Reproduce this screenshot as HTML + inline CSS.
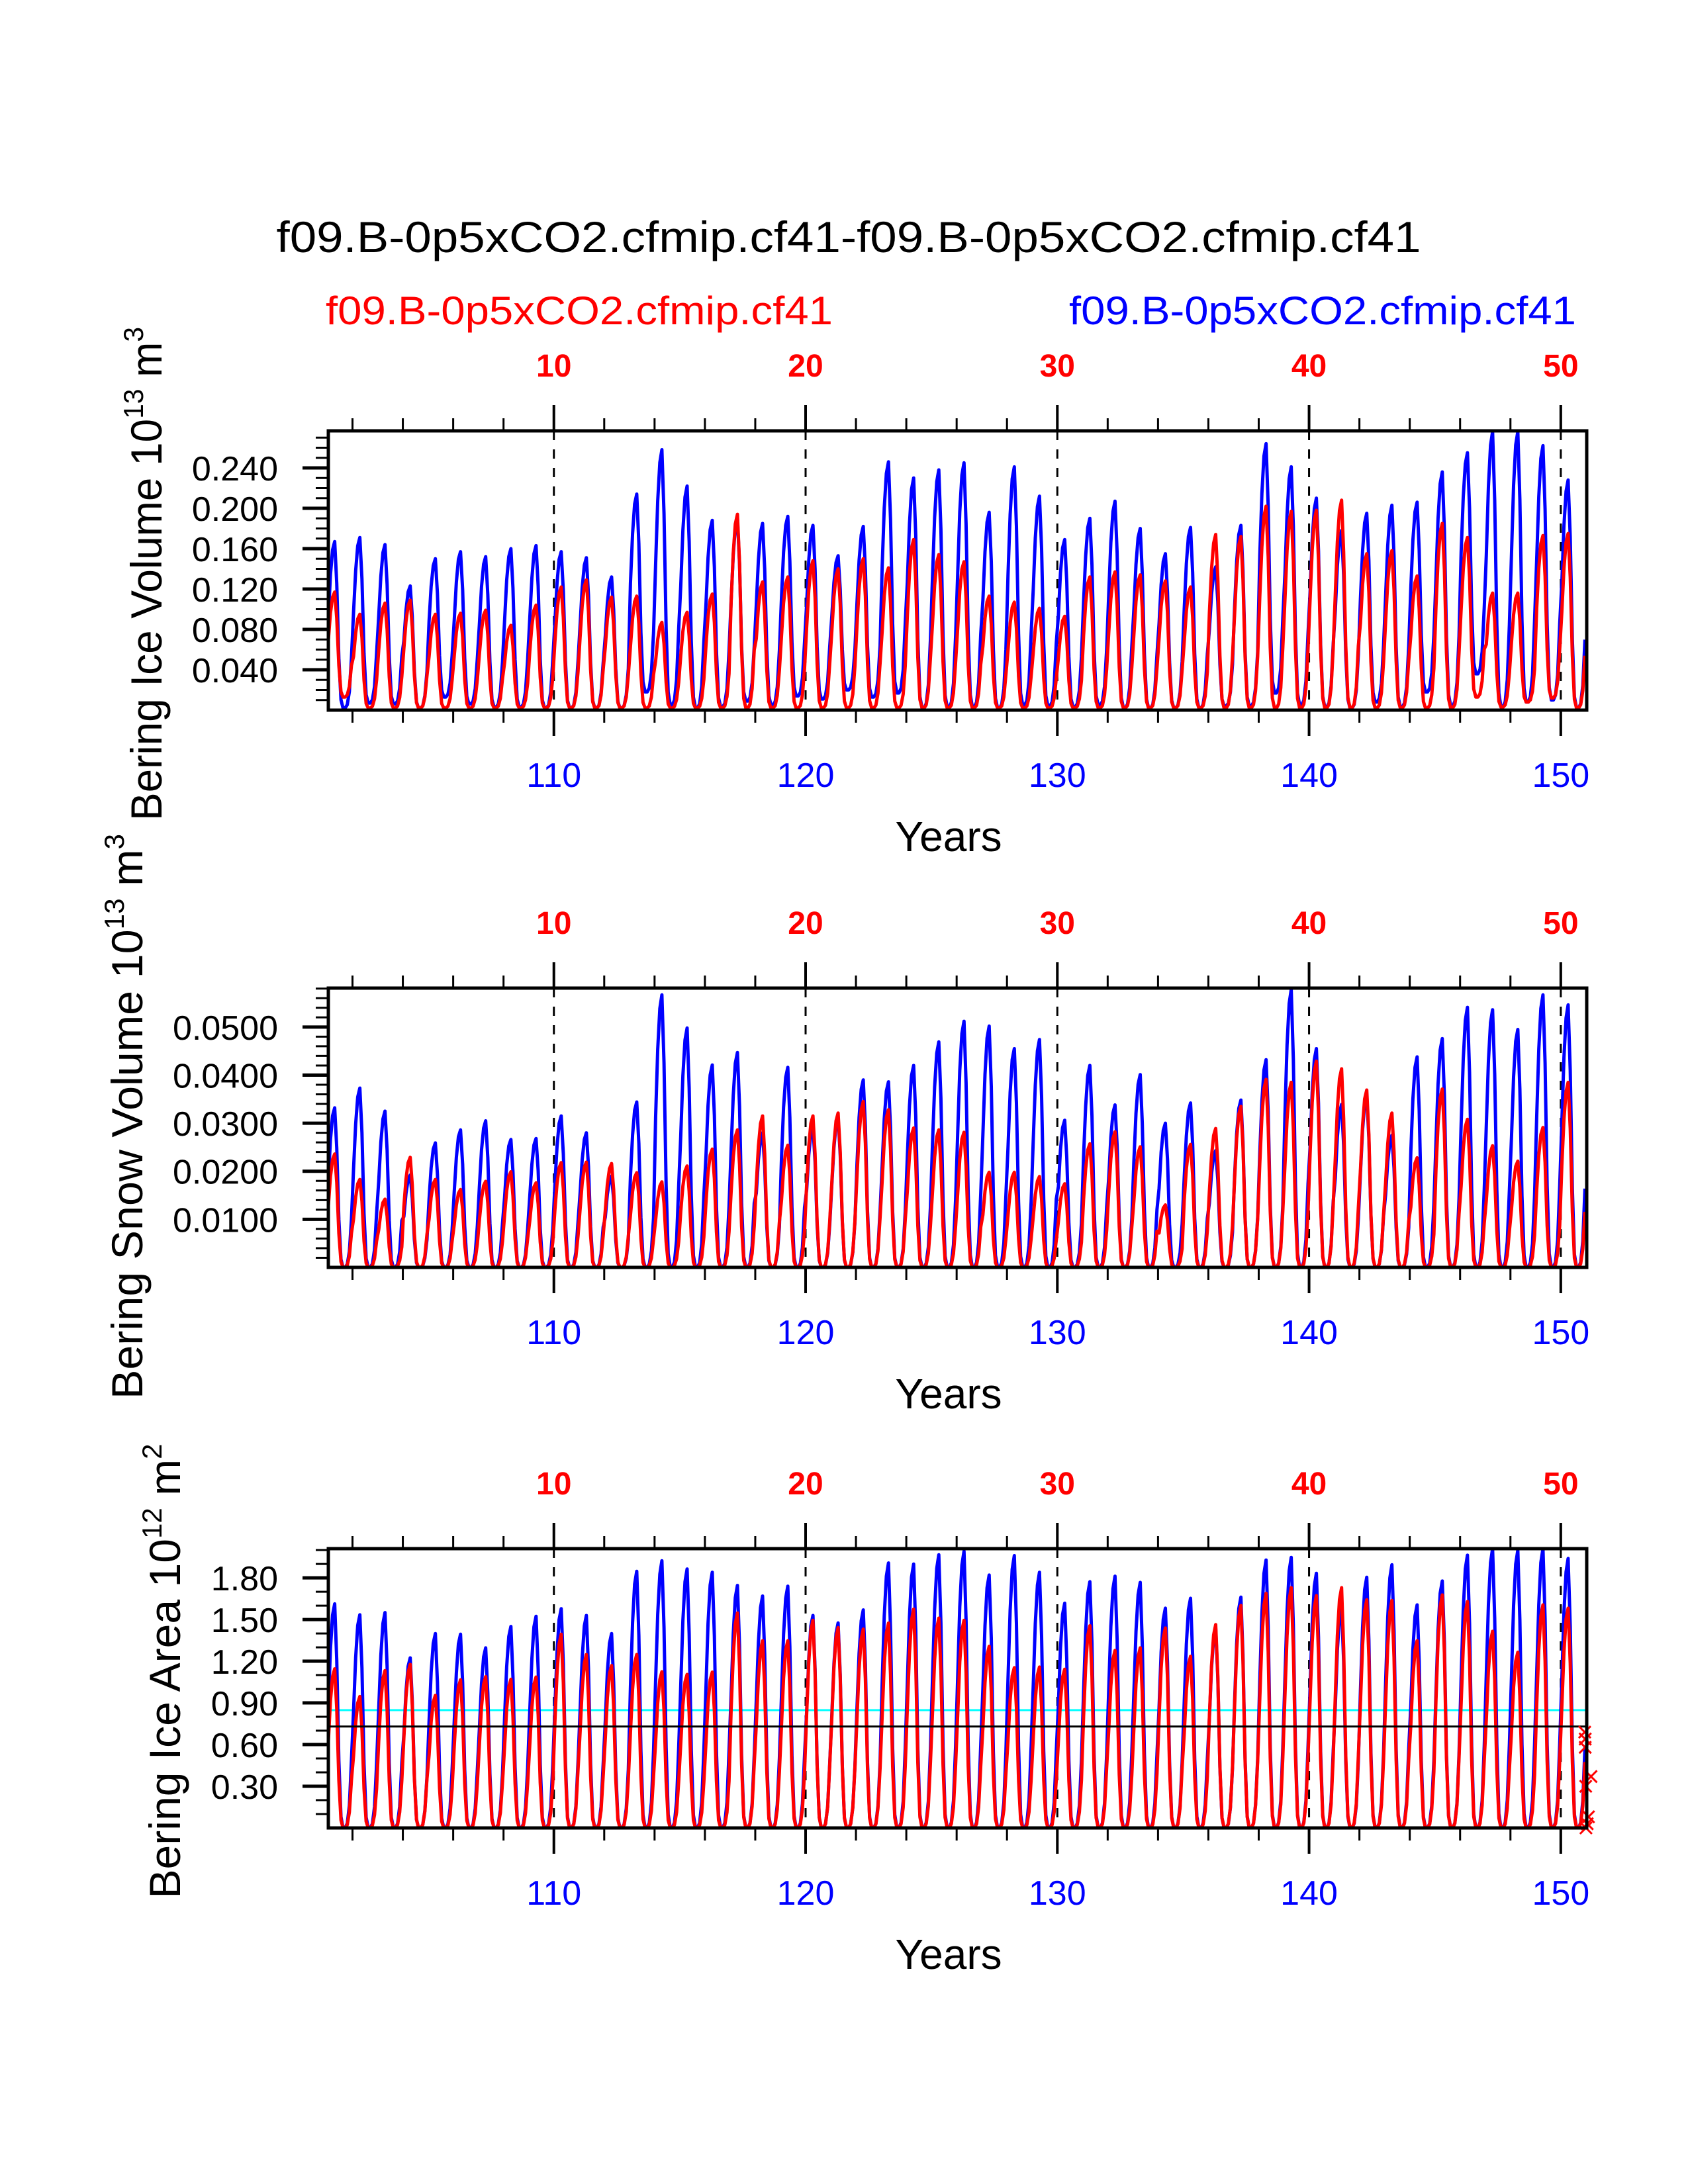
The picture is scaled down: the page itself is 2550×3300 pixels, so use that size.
<!DOCTYPE html>
<html><head><meta charset="utf-8"><style>
html,body{margin:0;padding:0;background:#fff;}
svg{display:block;font-family:"Liberation Sans",Arial,sans-serif;}
</style></head><body>
<svg id="chart" xmlns="http://www.w3.org/2000/svg" width="2550" height="3300" viewBox="0 0 2550 3300">
<rect x="0" y="0" width="2550" height="3300" fill="#fff"/>
<text x="1282" y="381" font-size="66" text-anchor="middle" textLength="1729" lengthAdjust="spacingAndGlyphs">f09.B-0p5xCO2.cfmip.cf41-f09.B-0p5xCO2.cfmip.cf41</text>
<text x="492" y="490" font-size="60" fill="#ff0000" textLength="766" lengthAdjust="spacingAndGlyphs">f09.B-0p5xCO2.cfmip.cf41</text>
<text x="2381" y="490" font-size="60" fill="#0000ff" text-anchor="end" textLength="766" lengthAdjust="spacingAndGlyphs">f09.B-0p5xCO2.cfmip.cf41</text>
<g id="plots"></g>
</svg>
<script>
// ---- data (annual peak/trough per year 1..50) ----
const years = [1,2,3,4,5,6,7,8,9,10,11,12,13,14,15,16,17,18,19,20,21,22,23,24,25,26,27,28,29,30,31,32,33,34,35,36,37,38,39,40,41,42,43,44,45,46,47,48,49,50];
const topTickLabels = ["10","20","30","40","50"];
const bottomTickLabels = ["110","120","130","140","150"];
const seasonalShape = [0.55,0.8,0.95,1.0,0.75,0.3,0.05,0,0,0.02,0.1,0.3];

const iceVolBluePeak = [0.167,0.171,0.164,0.123,0.150,0.157,0.152,0.160,0.163,0.157,0.151,0.132,0.214,0.258,0.222,0.188,0.190,0.185,0.192,0.183,0.153,0.182,0.246,0.230,0.238,0.245,0.196,0.241,0.212,0.169,0.190,0.207,0.180,0.155,0.181,0.142,0.183,0.264,0.241,0.210,0.178,0.195,0.203,0.206,0.236,0.255,0.276,0.276,0.262,0.228];
const iceVolRedPeak = [0.117,0.095,0.106,0.109,0.095,0.096,0.099,0.084,0.104,0.122,0.129,0.112,0.113,0.087,0.097,0.115,0.194,0.127,0.132,0.148,0.140,0.150,0.141,0.169,0.154,0.147,0.113,0.107,0.101,0.093,0.132,0.137,0.134,0.128,0.122,0.174,0.172,0.202,0.197,0.198,0.208,0.155,0.158,0.133,0.185,0.171,0.116,0.116,0.173,0.175];
const iceVolBlueMin = [0.002,0.007,0.006,0.002,0.013,0.006,0.003,0.003,0.002,0.002,0.002,0.002,0.018,0.005,0.002,0.003,0.009,0.005,0.014,0.011,0.02,0.013,0.017,0.002,0.003,0.003,0.002,0.005,0.004,0.003,0.005,0.002,0.002,0.002,0.002,0.004,0.004,0.017,0.005,0.003,0.002,0.008,0.003,0.018,0.004,0.036,0.003,0.008,0.01,0.002];
const iceVolRedMin = [0.013,0.002,0.002,0.002,0.002,0.002,0.002,0.002,0.002,0.002,0.002,0.002,0.002,0.002,0.002,0.002,0.002,0.002,0.002,0.002,0.002,0.002,0.002,0.002,0.002,0.002,0.002,0.002,0.002,0.002,0.002,0.002,0.002,0.002,0.002,0.002,0.002,0.002,0.002,0.002,0.002,0.002,0.002,0.002,0.002,0.013,0.003,0.008,0.012,0.002];

const snowBluePeak = [0.0332,0.0373,0.0325,0.0192,0.0259,0.0286,0.0305,0.0266,0.0268,0.0315,0.0280,0.0190,0.0344,0.0567,0.0498,0.0421,0.0447,0.0280,0.0416,0.0293,0.0312,0.0390,0.0386,0.0420,0.0469,0.0512,0.0502,0.0455,0.0474,0.0306,0.0420,0.0338,0.0401,0.0300,0.0342,0.0243,0.0348,0.0432,0.0578,0.0455,0.0339,0.0358,0.0275,0.0438,0.0476,0.0541,0.0536,0.0495,0.0567,0.0546];
const snowRedPeak = [0.0236,0.0183,0.0142,0.0229,0.0183,0.0162,0.0179,0.0199,0.0176,0.0218,0.0219,0.0216,0.0197,0.0178,0.0211,0.0246,0.0286,0.0315,0.0254,0.0315,0.0321,0.0345,0.0328,0.0290,0.0286,0.0281,0.0198,0.0198,0.0189,0.0174,0.0257,0.0282,0.0251,0.0130,0.0256,0.0289,0.0335,0.0391,0.0385,0.0429,0.0413,0.0369,0.0321,0.0228,0.0371,0.0308,0.0253,0.0221,0.0291,0.0385];

const areaBluePeak = [1.613,1.534,1.550,1.224,1.399,1.394,1.296,1.450,1.523,1.578,1.529,1.399,1.847,1.923,1.864,1.840,1.745,1.669,1.740,1.529,1.475,1.569,1.907,1.899,1.966,1.991,1.820,1.960,1.840,1.617,1.772,1.812,1.767,1.582,1.653,1.439,1.661,1.928,1.947,1.833,1.598,1.804,1.894,1.605,1.777,1.963,2.010,1.998,2.010,1.939];
const areaRedPeak = [1.145,0.946,1.132,1.177,0.954,1.066,1.089,1.070,1.086,1.394,1.248,1.169,1.248,1.124,1.105,1.121,1.547,1.347,1.347,1.494,1.442,1.431,1.474,1.574,1.510,1.494,1.307,1.153,1.158,1.142,1.455,1.277,1.296,1.439,1.235,1.463,1.601,1.688,1.729,1.672,1.729,1.642,1.637,1.347,1.677,1.629,1.415,1.264,1.605,1.582];
const areaRefCyan = 0.848;
const areaRefBlack = 0.73;
const markerX = [50.95,50.97,50.97,50.99,51.2,51.1,51.05,51.0];
const markerY = [0.69,0.64,0.58,0.30,0.37,0.08,0.03,0.0];

// ---- layout ----
const X0 = 496, X1 = 2397, XMIN = 1.04, XMAX = 51.03;
function xs(v){ return X0 + (v - XMIN) / (XMAX - XMIN) * (X1 - X0); }
const NS = "http://www.w3.org/2000/svg";
const root = document.getElementById('plots');
function mk(tag, attrs, parent){ const e = document.createElementNS(NS, tag); for (const k in attrs) e.setAttribute(k, attrs[k]); (parent||root).appendChild(e); return e; }

const panels = [
 {name:'ice-volume', top:651, bot:1073, ymax:0.2767, labels:[0.04,0.08,0.12,0.16,0.2,0.24], dec:3, minor:0.01,
  blue:iceVolBluePeak, red:iceVolRedPeak, bmin:iceVolBlueMin, rmin:iceVolRedMin,
  title:['Bering Ice Volume 10','13',' m','3'], tx:244, tcy:867, tlen:746},
 {name:'snow-volume', top:1493, bot:1915, ymax:0.0581, labels:[0.01,0.02,0.03,0.04,0.05], dec:4, minor:0.002,
  blue:snowBluePeak, red:snowRedPeak, bmin:null, rmin:null,
  title:['Bering Snow Volume 10','13',' m','3'], tx:215, tcy:1687, tlen:854},
 {name:'ice-area', top:2340, bot:2762, ymax:2.01, labels:[0.3,0.6,0.9,1.2,1.5,1.8], dec:2, minor:0.1,
  blue:areaBluePeak, red:areaRedPeak, bmin:null, rmin:null,
  title:['Bering Ice Area 10','12',' m','2'], tx:272, tcy:2525, tlen:687}
];

panels.forEach((p, pi) => {
  const g = mk('g', {});
  
  
  const ys = v => p.bot - v / p.ymax * (p.bot - p.top);
  const cid = 'clip' + pi;
  const cp = mk('clipPath', {id: cid}, g);
  mk('rect', {x: X0, y: p.top, width: X1 - X0, height: p.bot - p.top}, cp);

  for (let k = 10; k <= 50; k += 10) {
    const l = mk('line', {x1: xs(k), x2: xs(k), y1: p.top, y2: p.bot, stroke: '#000', 'stroke-width': 3, 'stroke-dasharray': '14 14'}, g);
    
    
  }
  function series(peaks, mins, color, nm) {
    let d = '';
    years.forEach((yr, i) => {
      const lo = mins ? mins[i] : 0.0;
      seasonalShape.forEach((s, m) => {
        const v = lo + (peaks[i] - lo) * s;
        const x = xs(yr + (m + 0.5) / 12);
        d += (d ? 'L' : 'M') + x.toFixed(1) + ',' + ys(v).toFixed(1);
      });
    });
    const path = mk('path', {d: d, fill: 'none', stroke: color, 'stroke-width': 5, 'stroke-linejoin': 'round', 'clip-path': 'url(#' + cid + ')'}, g);
    
    
  }
  if (pi === 2) {
    const c = mk('line', {x1: X0, x2: X1, y1: ys(areaRefCyan), y2: ys(areaRefCyan), stroke: '#00ffff', 'stroke-width': 3}, g);
    
    
  }
  series(p.blue, p.bmin, '#0000ff', p.name + '-blue-series');
  series(p.red, p.rmin, '#ff0000', p.name + '-red-series');
  if (pi === 2) {
    const b = mk('line', {x1: X0, x2: X1, y1: ys(areaRefBlack), y2: ys(areaRefBlack), stroke: '#000', 'stroke-width': 3}, g);
    
    
    markerX.forEach((mx, i) => {
      const cx = xs(mx), cy = ys(markerY[i]), r = 9;
      const mg = mk('g', {stroke: '#ff0000', 'stroke-width': 3}, g);
      
      
      mk('line', {x1: cx - r, y1: cy - r, x2: cx + r, y2: cy + r}, mg);
      mk('line', {x1: cx - r, y1: cy + r, x2: cx + r, y2: cy - r}, mg);
    });
  }
  const fr = mk('rect', {x: X0, y: p.top, width: X1 - X0, height: p.bot - p.top, fill: 'none', stroke: '#000', 'stroke-width': 5}, g);
  
  
  for (let k = 2; k <= 50; k += 2) {
    const major = k % 10 === 0, len = major ? 39 : 19, w = major ? 4 : 3;
    mk('line', {x1: xs(k), x2: xs(k), y1: p.top, y2: p.top - len, stroke: '#000', 'stroke-width': w}, g);
    mk('line', {x1: xs(k), x2: xs(k), y1: p.bot, y2: p.bot + len, stroke: '#000', 'stroke-width': w}, g);
  }
  topTickLabels.forEach((t, i) => {
    const tx = mk('text', {x: xs((i + 1) * 10), y: p.top - 82, 'font-size': 48, 'font-weight': 'bold', fill: '#ff0000', 'text-anchor': 'middle'}, g);
    tx.textContent = t;
    
    
  });
  bottomTickLabels.forEach((t, i) => {
    const tx = mk('text', {x: xs((i + 1) * 10), y: p.bot + 116, 'font-size': 52, fill: '#0000ff', 'text-anchor': 'middle'}, g);
    tx.textContent = t;
    
    
  });
  const xt = mk('text', {x: 1433, y: p.bot + 213, 'font-size': 64, 'text-anchor': 'middle'}, g);
  xt.textContent = 'Years';
  
  
  const nMinor = Math.floor(p.ymax / p.minor + 1e-6);
  for (let j = 1; j <= nMinor; j++) {
    const v = j * p.minor;
    mk('line', {x1: X0, x2: X0 - 19, y1: ys(v), y2: ys(v), stroke: '#000', 'stroke-width': 3}, g);
  }
  p.labels.forEach(v => {
    mk('line', {x1: X0, x2: X0 - 39, y1: ys(v), y2: ys(v), stroke: '#000', 'stroke-width': 5}, g);
    const tx = mk('text', {x: 420, y: ys(v) + 19, 'font-size': 52, 'text-anchor': 'end'}, g);
    tx.textContent = v.toFixed(p.dec);
    
    
  });
  const yt = mk('text', {x: 0, y: 0, 'font-size': 66, 'text-anchor': 'middle', transform: 'translate(' + p.tx + ',' + p.tcy + ') rotate(-90)', textLength: p.tlen, lengthAdjust: 'spacingAndGlyphs'}, g);
  
  
  const parts = [[p.title[0], 0, 66], [p.title[1], -28, 42], [p.title[2], 28, 66], [p.title[3], -28, 42]];
  parts.forEach(pt => {
    const ts = mk('tspan', {dy: pt[1], 'font-size': pt[2]}, yt);
    ts.textContent = pt[0];
  });
});
</script>
</body></html>
